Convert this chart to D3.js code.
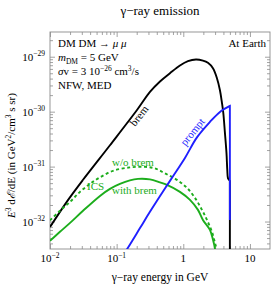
<!DOCTYPE html>
<meta charset="utf-8">
<html>
<head>
<script src="https://d3js.org/d3.v7.min.js"></script>
<style>
  body { margin: 0; background: #fff; }
  svg text { font-family: 'Liberation Serif', 'Times New Roman', Times, 'DejaVu Serif', serif !important; }
</style>
</head>
<body>
<script>
// values: energy in GeV, E^3 dE/dE in GeV^2/cm^3 s sr
const brem_E = [0.01, 0.0186, 0.0313, 0.0794, 0.202, 0.316, 0.447, 0.631, 0.891, 1.175, 1.549, 1.972,
                2.344, 2.786, 3.199, 3.548, 3.802, 3.981, 4.217, 4.446, 4.571, 4.677, 4.842, 5.0, 5.0];
const brem_flux = [7.94e-33, 2.45e-32, 5.75e-32, 2.45e-31, 1.07e-30, 2.29e-30, 3.55e-30, 5.01e-30, 6.92e-30,
                   8.32e-30, 8.91e-30, 8.51e-30, 7.76e-30, 6.17e-30, 4.07e-30, 2.45e-30, 1.45e-30, 9.55e-31,
                   4.07e-31, 1.78e-31, 8.71e-32, 6.17e-32, 5.75e-32, 5.50e-32, 1e-33];

const ics_E = [0.01, 0.0141, 0.02, 0.0313, 0.0562, 0.0794, 0.112, 0.158, 0.209, 0.316, 0.447, 0.569,
               0.891, 1.26, 1.66, 1.97, 2.51, 2.79, 2.99, 3.09];
const ics_flux = [4.46e-33, 6.50e-33, 9.46e-33, 1.57e-32, 2.93e-32, 3.94e-32, 4.84e-32, 5.61e-32, 5.97e-32,
                  5.85e-32, 5.16e-32, 4.65e-32, 3.47e-32, 2.48e-32, 1.63e-32, 1.07e-32, 7.06e-33, 4.65e-33,
                  3.19e-33, 2.0e-33];

const ics_nobrem_E = [0.01, 0.0141, 0.02, 0.0282, 0.0398, 0.0562, 0.0881, 0.158, 0.266, 0.376, 0.531, 0.804,
                      1.135, 1.496, 1.905, 2.265, 2.692, 2.985, 3.145, 3.255];
const ics_nobrem_flux = [1.05e-32, 1.57e-32, 2.28e-32, 3.47e-32, 4.84e-32, 6.37e-32, 8.36e-32, 9.66e-32, 9.89e-32,
                         9.27e-32, 7.52e-32, 5.73e-32, 4.10e-32, 2.70e-32, 1.63e-32, 1.07e-32, 6.50e-33, 4.10e-33,
                         3.19e-33, 2.01e-33];

const prompt_E = [0.0944, 0.141, 0.224, 0.316, 0.631, 1.059, 1.603, 2.512, 3.548, 5.0, 5.0];
const prompt_flux = [1.44e-33, 3.05e-33, 7.59e-33, 1.50e-32, 5.50e-32, 1.44e-31, 3.40e-31, 6.50e-31, 9.89e-31,
                     1.27e-30, 1.07e-32];

const x_major = [0.01, 0.1, 1, 10],
      x_labels = [['10', '−2'], ['10', '−1'], ['1', ''], ['10', '']],
      y_major = [1e-29, 1e-30, 1e-31, 1e-32],
      y_labels = ['−29', '−30', '−31', '−32'];

const width = 274, height = 286,
      m_left = 50, m_right = 270, m_top = 32, m_bottom = 249,
      frame_colour = '#8c8c8c',
      green = '#1cad1c',
      blue = '#1f1fff';

const svg = d3.select('body').append('svg')
  .attr('width', width)
  .attr('height', height)
  .attr('font-family', "'Liberation Serif', 'Times New Roman', serif");

const x = d3.scaleLog().domain([0.01, 20]).range([m_left, m_right]),
      y = d3.scaleLog().domain([Math.pow(10, -32.5), Math.pow(10, -28.55)]).range([m_bottom, m_top]);

const minor = (lo, hi) => {
  let out = [];
  for (let e = Math.floor(Math.log10(lo)); e <= Math.ceil(Math.log10(hi)); e++)
    for (let m = 2; m <= 9; m++) {
      const v = m * Math.pow(10, e);
      if (v > lo && v < hi) out.push(v);
    }
  return out;
};
const x_minor = minor(0.01, 20),
      y_minor = minor(Math.pow(10, -32.5), Math.pow(10, -28.55));

svg.append('defs').append('clipPath').attr('id', 'plot')
  .append('rect').attr('x', m_left).attr('y', m_top)
  .attr('width', m_right - m_left).attr('height', m_bottom - m_top);

// ticks, pointing inward on all four sides
const tick_axis = (axis, at, transform, values, size) => svg.append('g')
  .attr('transform', transform)
  .call(axis(at).tickValues(values).tickSize(-size).tickFormat(''))
  .call(g => g.select('.domain').remove())
  .call(g => g.selectAll('line').attr('stroke', frame_colour).attr('stroke-width', 0.8));

tick_axis(d3.axisBottom, x, `translate(0,${m_bottom})`, x_major, 5);
tick_axis(d3.axisBottom, x, `translate(0,${m_bottom})`, x_minor, 3);
tick_axis(d3.axisTop, x, `translate(0,${m_top})`, x_major, 5);
tick_axis(d3.axisTop, x, `translate(0,${m_top})`, x_minor, 3);
tick_axis(d3.axisLeft, y, `translate(${m_left},0)`, y_major, 5);
tick_axis(d3.axisLeft, y, `translate(${m_left},0)`, y_minor, 3);
tick_axis(d3.axisRight, y, `translate(${m_right},0)`, y_major, 5);
tick_axis(d3.axisRight, y, `translate(${m_right},0)`, y_minor, 3);

svg.append('rect')
  .attr('x', m_left).attr('y', m_top)
  .attr('width', m_right - m_left).attr('height', m_bottom - m_top)
  .attr('fill', 'none').attr('stroke', frame_colour).attr('stroke-width', 0.9);

// tick labels
x_major.forEach((v, i) => {
  const t = svg.append('text')
    .attr('x', x(v)).attr('y', 262)
    .attr('text-anchor', 'middle')
    .attr('font-size', 11);
  t.append('tspan').text(x_labels[i][0]);
  if (x_labels[i][1]) t.append('tspan').attr('dy', -4.5).attr('font-size', 7.5).text(x_labels[i][1]);
});

y_major.forEach((v, i) => {
  const t = svg.append('text')
    .attr('x', 45).attr('y', y(v) + 4)
    .attr('text-anchor', 'end')
    .attr('font-size', 11);
  t.append('tspan').text('10');
  t.append('tspan').attr('dy', -4.5).attr('font-size', 7.5).text(y_labels[i]);
});

// curves: smooth through the points, straight for the final cut-off drop
const smooth = d3.line()
  .x(d => x(d[0]))
  .y(d => y(d[1]))
  .curve(d3.curveCatmullRom.alpha(0.5));

const with_drop = pts => {
  const last = pts[pts.length - 1];
  return smooth(pts.slice(0, -1)) + 'L' + x(last[0]) + ',' + y(last[1]);
};

const curves = svg.append('g').attr('clip-path', 'url(#plot)');
const draw = (E, flux, colour, dash, path) => curves.append('path')
  .datum(d3.zip(E, flux))
  .attr('d', path)
  .attr('fill', 'none')
  .attr('stroke', colour)
  .attr('stroke-width', 1.9)
  .attr('stroke-dasharray', dash);

draw(brem_E, brem_flux, '#000', null, with_drop);
draw(ics_nobrem_E, ics_nobrem_flux, green, '3,2.6', smooth);
draw(ics_E, ics_flux, green, null, smooth);
draw(prompt_E, prompt_flux, blue, null, with_drop);

// curve labels
const label = (txt, E, f, colour, anchor, angle) => svg.append('text')
  .attr('transform', `translate(${x(E)},${y(f)}) rotate(${angle})`)
  .attr('text-anchor', anchor)
  .attr('font-size', 11)
  .attr('fill', colour)
  .text(txt);

label('brem', 0.24, 7.67e-31, '#000', 'middle', -52);
label('prompt', 1.52, 3.90e-31, blue, 'middle', -51);
label('ICS', 0.0359, 3.69e-32, green, 'start', 0);
label('with brem', 0.0851, 3.19e-32, green, 'start', 0);
label('w/o brem', 0.0851, 1.01e-31, green, 'start', 0);

// annotations in the corners
const info = svg.append('g').attr('font-size', 11);
info.append('text').attr('x', 58).attr('y', 47)
  .html('DM DM → <tspan font-style="italic">μ μ</tspan>');
info.append('text').attr('x', 58).attr('y', 61)
  .html('<tspan font-style="italic">m</tspan><tspan font-size="7.5" dy="2.5">DM</tspan><tspan dy="-2.5"> = 5 GeV</tspan>');
info.append('text').attr('x', 58).attr('y', 75)
  .html('<tspan font-style="italic">σ</tspan>v = 3 10<tspan font-size="7.5" dy="-4.5">−26</tspan><tspan dy="4.5">  cm</tspan><tspan font-size="7.5" dy="-4.5">3</tspan><tspan dy="4.5">/s</tspan>');
info.append('text').attr('x', 58).attr('y', 89).text('NFW, MED');
info.append('text').attr('x', 266).attr('y', 47).attr('text-anchor', 'end').text('At Earth');

// titles
svg.append('text')
  .attr('x', (m_left + m_right) / 2).attr('y', 15)
  .attr('text-anchor', 'middle').attr('font-size', 13)
  .text('γ−ray emission');

svg.append('text')
  .attr('x', (m_left + m_right) / 2).attr('y', 281)
  .attr('text-anchor', 'middle').attr('font-size', 11.5)
  .text('γ−ray energy in GeV');

svg.append('text')
  .attr('transform', `translate(15,${(m_top + m_bottom) / 2 + 15}) rotate(-90)`)
  .attr('text-anchor', 'middle').attr('font-size', 11)
  .html('<tspan font-style="italic">E</tspan><tspan font-size="7.5" dy="-4.5">3</tspan><tspan dy="4.5">  d</tspan><tspan font-style="italic">ℰ</tspan>/dE  (in GeV<tspan font-size="7.5" dy="-4.5">2</tspan><tspan dy="4.5">/cm</tspan><tspan font-size="7.5" dy="-4.5">3</tspan><tspan dy="4.5"> s sr)</tspan>');
</script>
</body>
</html>
